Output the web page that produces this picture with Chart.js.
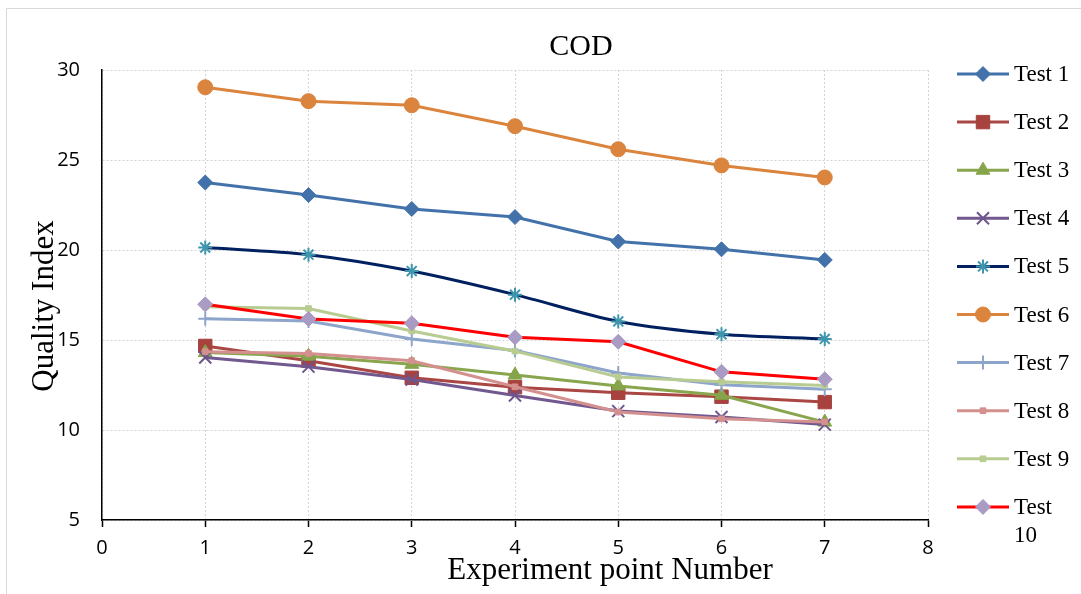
<!DOCTYPE html>
<html>
<head>
<meta charset="utf-8">
<title>COD</title>
<script src="https://cdn.jsdelivr.net/npm/chart.js@4.4.1/dist/chart.umd.min.js"></script>
<style>
  html, body { margin: 0; padding: 0; background: #fff; }
  #wrap { width: 1081px; height: 594px; }
</style>
</head>
<body>
<div id="wrap"><canvas id="codChart" width="1081" height="594"></canvas></div>
<script>
// experiment points on the x axis
const POINTS = [1, 2, 3, 4, 5, 6, 7];

// COD quality index per test
const TEST_1  = [23.75, 23.05, 22.28, 21.83, 20.47, 20.04, 19.45];
const TEST_2  = [14.67, 13.85, 12.90, 12.38, 12.07, 11.85, 11.55];
const TEST_3  = [14.30, 14.10, 13.65, 13.05, 12.45, 11.93, 10.44];
const TEST_4  = [14.03, 13.52, 12.80, 11.92, 11.05, 10.72, 10.30];
const TEST_5  = [20.14, 19.74, 18.83, 17.52, 16.03, 15.32, 15.06];
const TEST_6  = [29.04, 28.27, 28.04, 26.88, 25.60, 24.70, 24.03];
const TEST_7  = [16.18, 16.05, 15.05, 14.42, 13.17, 12.52, 12.27];
const TEST_8  = [14.35, 14.25, 13.85, 12.40, 11.00, 10.62, 10.45];
const TEST_9  = [16.85, 16.75, 15.50, 14.38, 12.95, 12.68, 12.47];
const TEST_10 = [16.98, 16.17, 15.93, 15.15, 14.90, 13.23, 12.82];

const LABELS = ['Test 1', 'Test 2', 'Test 3', 'Test 4', 'Test 5',
                'Test 6', 'Test 7', 'Test 8', 'Test 9', 'Test 10'];
const SERIES = [TEST_1, TEST_2, TEST_3, TEST_4, TEST_5,
                TEST_6, TEST_7, TEST_8, TEST_9, TEST_10];

// line colour, marker colour, marker shape, marker radius, marker stroke
const STYLES = [
    { line: '#4372aa', mark: '#4372aa', shape: 'rectRot',  r: 7.5, bw: 1 },
    { line: '#aa4643', mark: '#a8423f', shape: 'rect',     r: 9.5, bw: 1 },
    { line: '#89a54e', mark: '#86a44a', shape: 'triangle', r: 8,   bw: 1 },
    { line: '#71588f', mark: '#6e548d', shape: 'crossRot', r: 8.5, bw: 2 },
    { line: '#002060', mark: '#3d96ae', shape: 'star',     r: 7,   bw: 2 },
    { line: '#db843d', mark: '#db843d', shape: 'circle',   r: 7.5, bw: 1 },
    { line: '#8ea5cb', mark: '#8ea5cb', shape: 'cross',    r: 7,   bw: 2 },
    { line: '#d4908e', mark: '#d4908e', shape: 'rect',     r: 4,   bw: 1 },
    { line: '#b8cc92', mark: '#b8cc92', shape: 'rect',     r: 4,   bw: 1 },
    { line: '#ff0000', mark: '#a99bc3', shape: 'rectRot',  r: 7.5, bw: 1 }
];

const SERIF = "'Liberation Serif', 'Times New Roman', serif";
const SANS = "'Open Sans', 'Liberation Sans', sans-serif";
const GRID = '#d4d4d4';

const datasets = SERIES.map((vals, i) => {
    const s = STYLES[i];
    return {
        label: LABELS[i],
        data: POINTS.map((x, k) => ({ x: x, y: vals[k] })),
        borderColor: s.line,
        backgroundColor: s.mark,
        borderWidth: 3,
        pointStyle: s.shape,
        pointRadius: s.r,
        pointHoverRadius: s.r,
        pointBackgroundColor: s.mark,
        pointBorderColor: s.mark,
        pointBorderWidth: s.bw,
        tension: i === 4 ? 0.3 : 0,
        order: SERIES.length - i  // later tests sit on top
    };
});

// frame, titles and the side legend
const decorPlugin = {
    id: 'decor',
    beforeDraw(chart) {
        const ctx = chart.ctx;
        ctx.save();
        ctx.fillStyle = '#ffffff';
        ctx.fillRect(0, 0, chart.width, chart.height);
        ctx.strokeStyle = '#d9d9d9';
        ctx.lineWidth = 1;
        ctx.beginPath();
        ctx.moveTo(6.5, chart.height);
        ctx.lineTo(6.5, 8.5);
        ctx.lineTo(chart.width, 8.5);
        ctx.stroke();
        ctx.restore();
    },
    afterDraw(chart) {
        const ctx = chart.ctx;
        ctx.save();
        ctx.fillStyle = '#000';
        ctx.textAlign = 'center';
        ctx.textBaseline = 'middle';
        ctx.font = '30px ' + SERIF;
        ctx.fillText('COD', 581, 47);
        ctx.font = '31px ' + SERIF;
        ctx.fillText('Experiment point Number', 610, 571);
        ctx.save();
        ctx.translate(45, 306);
        ctx.rotate(-Math.PI / 2);
        ctx.fillText('Quality Index', 0, 0);
        ctx.restore();

        // legend
        ctx.font = '23px ' + SERIF;
        ctx.textAlign = 'left';
        chart.data.datasets.forEach((ds, i) => {
            const y = 74 + i * 48.1;
            ctx.strokeStyle = ds.borderColor;
            ctx.lineWidth = 3;
            ctx.beginPath();
            ctx.moveTo(957, y);
            ctx.lineTo(1009, y);
            ctx.stroke();
            ctx.fillStyle = ds.pointBackgroundColor;
            ctx.strokeStyle = ds.pointBorderColor;
            ctx.lineWidth = ds.pointBorderWidth;
            Chart.helpers.drawPoint(ctx, {
                pointStyle: ds.pointStyle,
                rotation: 0,
                radius: ds.pointRadius,
                borderWidth: ds.pointBorderWidth
            }, 983, y);
            ctx.fillStyle = '#000';
            const parts = ds.label === 'Test 10' ? ['Test', '10'] : [ds.label];
            parts.forEach((t, j) => ctx.fillText(t, 1014, y + 1 + j * 28));
        });
        ctx.restore();
    }
};

new Chart(document.getElementById('codChart'), {
    type: 'line',
    data: { datasets: datasets },
    plugins: [decorPlugin],
    options: {
        responsive: false,
        animation: false,
        layout: { padding: { left: 0, top: 70, right: 153, bottom: 0 } },
        plugins: {
            legend: { display: false },
            title: { display: false },
            tooltip: { enabled: false }
        },
        scales: {
            x: {
                type: 'linear',
                min: 0,
                max: 8,
                afterFit(scale) { scale.height = 74; },
                ticks: {
                    stepSize: 1,
                    padding: 9,
                    color: '#000',
                    font: { family: SANS, size: 20 }
                },
                grid: {
                    color: GRID,
                    lineWidth: 1,
                    drawTicks: true,
                    tickLength: 7,
                    tickColor: '#000',
                    tickWidth: 1.5,
                    tickBorderDash: []
                },
                border: { display: true, color: '#000', width: 1.5, dash: [2, 2] }
            },
            y: {
                min: 5,
                max: 30,
                afterFit(scale) { scale.width = 102; },
                ticks: {
                    stepSize: 5,
                    padding: 22,
                    color: '#000',
                    font: { family: SANS, size: 20 }
                },
                grid: {
                    color: GRID,
                    lineWidth: 1,
                    drawTicks: false
                },
                border: { display: true, color: '#000', width: 1.5, dash: [2, 2] }
            }
        }
    }
});
</script>
</body>
</html>
